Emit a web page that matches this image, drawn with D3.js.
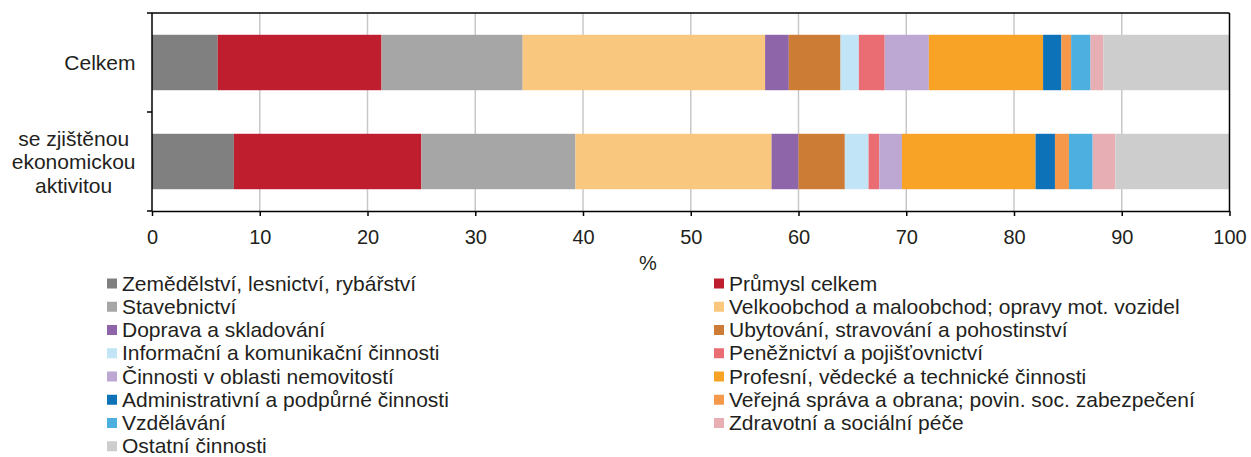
<!DOCTYPE html>
<html>
<head>
<meta charset="utf-8">
<script src="https://cdn.jsdelivr.net/npm/d3@7"></script>
<style>
  body { margin: 0; background: #fff; }
  text { font-family: "Liberation Sans", Arial, sans-serif; fill: #231f20; }
</style>
</head>
<body>
<div id="chart"></div>
<script>
var svgWidth = 1251;
var svgHeight = 457;

// categories (rows) and sectors
var categories = ["Celkem", "se zjištěnou ekonomickou aktivitou"];
var categoryLines = [["Celkem"], ["se zjištěnou", "ekonomickou", "aktivitou"]];

var sectors = [
  "Zemědělství, lesnictví, rybářství",
  "Průmysl celkem",
  "Stavebnictví",
  "Velkoobchod a maloobchod; opravy mot. vozidel",
  "Doprava a skladování",
  "Ubytování, stravování a pohostinství",
  "Informační a komunikační činnosti",
  "Peněžnictví a pojišťovnictví",
  "Činnosti v oblasti nemovitostí",
  "Profesní, vědecké a technické činnosti",
  "Administrativní a podpůrné činnosti",
  "Veřejná správa a obrana; povin. soc. zabezpečení",
  "Vzdělávání",
  "Zdravotní a sociální péče",
  "Ostatní činnosti"
];

var colors = ["#808080", "#be1e2d", "#a6a6a6", "#f9c77e", "#8e65a9", "#cc7c35", "#c1e4f7",
  "#eb6d74", "#bca8d3", "#f8a325", "#0e72b9", "#f6984a", "#4daee0", "#e7afb3", "#cdcdcd"];

var celkem = [6.1, 15.2, 13.1, 22.5, 2.2, 4.8, 1.7, 2.4, 4.1, 10.6, 1.7, 0.9, 1.8, 1.2, 11.7];
var zjistenou = [7.6, 17.4, 14.3, 18.2, 2.5, 4.3, 2.2, 1.0, 2.1, 12.4, 1.8, 1.3, 2.2, 2.1, 10.6];

var xTicks = [0, 10, 20, 30, 40, 50, 60, 70, 80, 90, 100];

var rows = [celkem, zjistenou].map(function(vals, i) {
  var r = { cat: categories[i] };
  sectors.forEach(function(s, j) { r[s] = vals[j]; });
  return r;
});

var svg = d3.select("#chart").append("svg")
  .attr("width", svgWidth)
  .attr("height", svgHeight);

var plot = { left: 152, right: 1229.5, top: 13, bottom: 211 };

var x = d3.scaleLinear().domain([0, 100]).range([plot.left, plot.right]);
var y = d3.scaleBand().domain(categories).range([plot.top, plot.bottom])
  .paddingInner(0.44).paddingOuter(0.22);

var color = d3.scaleOrdinal().domain(sectors).range(colors);

// gridlines
svg.append("g").selectAll("line")
  .data(xTicks.slice(1, -1))
  .enter().append("line")
  .attr("x1", d => x(d)).attr("x2", d => x(d))
  .attr("y1", plot.top).attr("y2", plot.bottom)
  .attr("stroke", "#c8c8c8").attr("stroke-width", 1.5);

// stacked bars
var stacked = d3.stack().keys(sectors)(rows);

svg.append("g").selectAll("g")
  .data(stacked)
  .enter().append("g")
  .attr("fill", d => color(d.key))
  .selectAll("rect")
  .data(d => d)
  .enter().append("rect")
  .attr("x", d => x(d[0]))
  .attr("width", d => x(d[1]) - x(d[0]))
  .attr("y", d => y(d.data.cat))
  .attr("height", y.bandwidth());

// frame: top and right lines
svg.append("line")
  .attr("x1", plot.left).attr("x2", plot.right)
  .attr("y1", plot.top).attr("y2", plot.top)
  .attr("stroke", "#000").attr("stroke-width", 1.5);
svg.append("line")
  .attr("x1", plot.right).attr("x2", plot.right)
  .attr("y1", plot.top).attr("y2", plot.bottom)
  .attr("stroke", "#000").attr("stroke-width", 1.5);

// x axis
var xAxis = svg.append("g")
  .attr("transform", `translate(0, ${plot.bottom})`)
  .call(d3.axisBottom(x).tickValues(xTicks).tickSize(5).tickPadding(14).tickSizeOuter(0));
xAxis.select(".domain").attr("stroke", "#000").attr("stroke-width", 1.5);
xAxis.selectAll(".tick line").attr("stroke", "#000").attr("stroke-width", 1.5);
xAxis.selectAll(".tick text")
  .style("font-family", '"Liberation Sans", Arial, sans-serif')
  .style("font-size", "20px").attr("fill", "#231f20");

svg.append("text")
  .attr("x", 648).attr("y", 270)
  .attr("text-anchor", "middle")
  .style("font-size", "20px")
  .text("%");

// y axis line and ticks at category boundaries
svg.append("line")
  .attr("x1", plot.left).attr("x2", plot.left)
  .attr("y1", plot.top).attr("y2", plot.bottom)
  .attr("stroke", "#000").attr("stroke-width", 1.5);
var yBounds = [plot.top, (plot.top + plot.bottom) / 2, plot.bottom];
svg.append("g").selectAll("line")
  .data(yBounds)
  .enter().append("line")
  .attr("x1", plot.left - 5).attr("x2", plot.left)
  .attr("y1", d => d).attr("y2", d => d)
  .attr("stroke", "#000").attr("stroke-width", 1.5);

// category labels, multi-line centred inside a right-aligned block
var lineH = 23.5;
categories.forEach(function(c, i) {
  var lines = categoryLines[i];
  var cy = y(c) + y.bandwidth() / 2;
  var g = svg.append("g");
  var t = g.selectAll("text").data(lines).enter().append("text")
    .attr("y", (d, k) => cy + (k - (lines.length - 1) / 2) * lineH + 7.5)
    .attr("text-anchor", "middle")
    .style("font-size", "21px")
    .text(d => d);
  var maxW = d3.max(t.nodes(), n => n.getComputedTextLength());
  t.attr("x", 135.5 - maxW / 2);
});

// legend, two columns filled row by row
var legendCols = [107, 714];
var legendTop = 283.5;
var legendStep = 23.25;
var legend = svg.append("g").selectAll("g")
  .data(sectors)
  .enter().append("g")
  .attr("transform", (d, i) =>
    `translate(${legendCols[i % 2]}, ${legendTop + Math.floor(i / 2) * legendStep})`);
legend.append("rect")
  .attr("x", 0).attr("y", -5)
  .attr("width", 10).attr("height", 10)
  .attr("fill", d => color(d));
legend.append("text")
  .attr("x", 15).attr("y", 7)
  .style("font-size", "21px")
  .text(d => d);
</script>
</body>
</html>
